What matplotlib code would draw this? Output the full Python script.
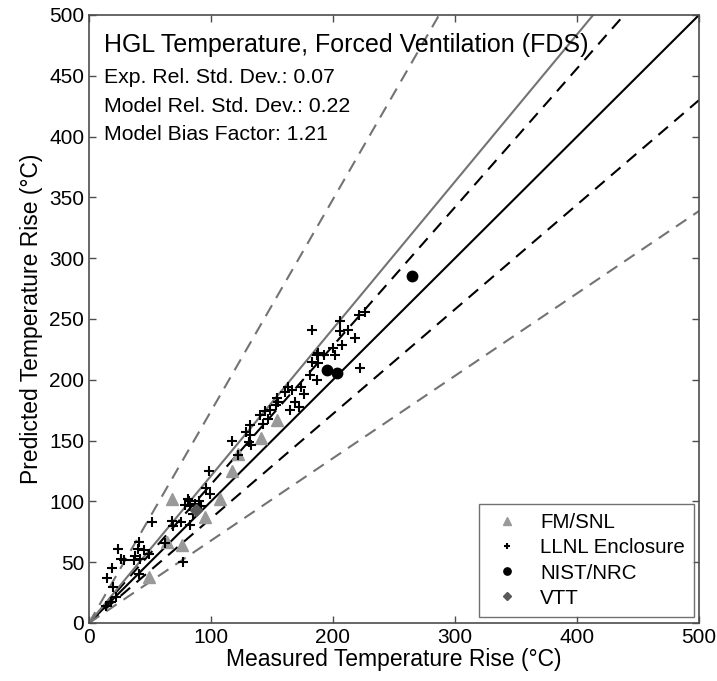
import numpy as np
import matplotlib
matplotlib.use('Agg')
import matplotlib.pyplot as plt

plt.rcParams['font.family'] = ['Liberation Sans', 'DejaVu Sans']

# statistics shown in the chart
sigma_e = 0.07
sigma_m = 0.22
delta = 1.21

# FM/SNL (measured, predicted)
fm_x = [49, 64, 76, 68, 95, 107, 117, 122, 141, 154]
fm_y = [38, 67, 64, 102, 87, 102, 125, 139, 152, 167]

# LLNL Enclosure
llnl_x = [14, 18, 22, 15, 19, 20, 24, 26, 29, 37, 38, 40, 41, 41, 42, 45, 49, 52,
          62, 68, 69, 75, 77, 79, 81, 82, 83, 83, 85, 87, 90, 92, 96, 98, 99,
          117, 122, 129, 131, 132, 133, 132, 140, 143, 144, 147, 148, 153, 154,
          155, 161, 163, 165, 166, 169, 172, 174, 176, 181, 183, 183, 187, 187,
          188, 188, 193, 200, 202, 206, 206, 207, 212, 218, 221, 226, 222]
llnl_y = [14, 17, 21, 37, 45, 30, 61, 53, 52, 52, 55, 61, 67, 40, 53, 60, 57, 83,
          66, 84, 80, 83, 50, 97, 102, 100, 96, 81, 90, 98, 100, 96, 111, 125, 106,
          150, 138, 157, 149, 163, 146, 155, 171, 164, 174, 168, 175, 179, 185,
          182, 190, 194, 175, 192, 182, 178, 194, 188, 204, 215, 241, 220, 200,
          214, 222, 220, 226, 220, 248, 240, 229, 241, 234, 253, 256, 210]

# NIST/NRC
nist_x = [195, 203, 265]
nist_y = [208, 206, 285]

# VTT
vtt_x = [88]
vtt_y = [93]

fig = plt.figure(figsize=(7.17, 6.81), dpi=100)
ax = fig.add_axes([89 / 717, 1 - 623 / 681, 610 / 717, 608 / 681])

x = np.array([0, 500])
ax.plot(x, x, color='k', lw=1.5)
ax.plot(x, x * (1 + 2 * sigma_e), color='k', ls=(0, (6, 4)), lw=1.5)
ax.plot(x, x * (1 - 2 * sigma_e), color='k', ls=(0, (6, 4)), lw=1.5)
ax.plot(x, delta * x, color='0.45', lw=1.5)
ax.plot(x, delta * x * (1 + 2 * sigma_m), color='0.45', ls=(0, (6, 4)), lw=1.5)
ax.plot(x, delta * x * (1 - 2 * sigma_m), color='0.45', ls=(0, (6, 4)), lw=1.5)

ax.plot(fm_x, fm_y, '^', color='0.6', ms=8, mec='0.6', ls='none', label='FM/SNL')
ax.plot(llnl_x, llnl_y, '+', color='k', ms=7, mew=1.5, ls='none', label='LLNL Enclosure')
ax.plot(nist_x, nist_y, 'o', color='k', ms=7.5, ls='none', label='NIST/NRC')
ax.plot(vtt_x, vtt_y, 'D', color='0.35', ms=6, ls='none', label='VTT')

ax.set_xlim(0, 500)
ax.set_ylim(0, 500)
ax.set_xticks(range(0, 501, 100))
ax.set_yticks(range(0, 501, 50))
ax.tick_params(direction='in', top=True, right=True, labelsize=15, length=5, width=1,
               color='0.3')
for s in ax.spines.values():
    s.set_color('0.3')
    s.set_linewidth(1.2)

ax.set_xlabel('Measured Temperature Rise (°C)', fontsize=16.5, labelpad=1)
ax.set_ylabel('Predicted Temperature Rise (°C)', fontsize=16.5, labelpad=4)

ax.text(0.025, 0.951, 'HGL Temperature, Forced Ventilation (FDS)', transform=ax.transAxes,
        fontsize=18, va='center')
ax.text(0.025, 0.898, 'Exp. Rel. Std. Dev.: 0.07', transform=ax.transAxes,
        fontsize=15.3, va='center')
ax.text(0.025, 0.850, 'Model Rel. Std. Dev.: 0.22', transform=ax.transAxes,
        fontsize=15.3, va='center')
ax.text(0.025, 0.804, 'Model Bias Factor: 1.21', transform=ax.transAxes,
        fontsize=15.3, va='center')

leg = ax.legend(loc='lower right', fontsize=14.8, fancybox=False, edgecolor='0.3',
                handlelength=1.8, handletextpad=0.7, borderpad=0.45, labelspacing=0.3,
                borderaxespad=0, bbox_to_anchor=(0.992, 0.01), markerscale=0.7)
leg.get_frame().set_linewidth(1.0)

fig.savefig('out.png', dpi=100)
